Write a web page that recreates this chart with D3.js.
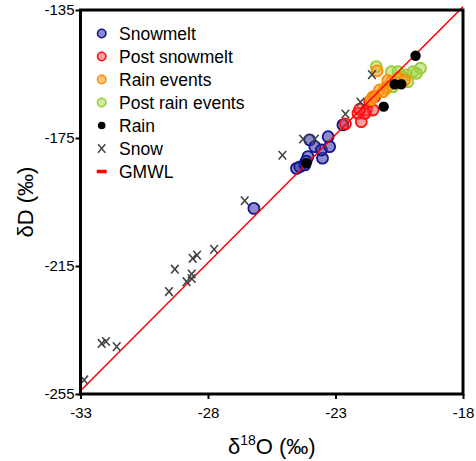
<!DOCTYPE html>
<html>
<head>
<meta charset="utf-8">
<script src="https://cdn.jsdelivr.net/npm/d3@7"></script>
<style>
  body { margin: 0; background: #fff; }
  text { font-family: "Liberation Sans", Arial, sans-serif; }
</style>
</head>
<body>
<div id="chart"></div>
<script>
// d18O, dD pairs
var snowmelt = [[-26.2,-197.0],[-24.53,-184.5],[-24.4,-184.0],[-24.2,-183.4],[-24.08,-180.8],
  [-24.01,-175.6],[-23.81,-177.7],[-23.51,-181.3],[-23.55,-178.75],[-23.29,-174.6],[-23.23,-177.7],
  [-22.71,-170.9],[-24.15,-182.2]];
var postSnowmelt = [[-22.61,-170.6],[-22.12,-167.3],[-21.99,-169.9],[-21.79,-166.25],[-21.53,-166.25],
  [-21.66,-163.6],[-21.46,-162.1],[-21.85,-167.3],[-22.05,-166.0]];
var postRain = [[-21.4,-152.7],[-20.81,-154.3],[-20.55,-154.3],[-20.22,-155.3],[-19.96,-154.3],
  [-19.67,-153.2],[-19.83,-154.8],[-21.0,-159.5],[-20.75,-159.0],[-20.16,-157.4],[-20.4,-155.8]];
var rainEvents = [[-21.37,-154.0],[-21.53,-162.1],[-21.27,-160.0],[-21.0,-159.0],[-20.81,-157.4],
  [-20.55,-156.3],[-20.29,-156.9],[-21.14,-160.5],[-21.6,-163.0],[-20.95,-157.0]];
var rain = [[-24.14,-182.9],[-21.11,-165.2],[-20.68,-158.2],[-20.42,-158.2],[-19.86,-149.3]];
var snow = [[-32.86,-250.6],[-32.17,-239.2],[-32.0,-238.6],[-31.58,-240.2],[-29.53,-223.0],
  [-29.3,-216.0],[-28.84,-219.9],[-28.64,-218.9],[-28.6,-212.6],[-28.43,-211.6],[-28.64,-217.5],
  [-27.76,-209.8],[-26.56,-194.6],[-25.08,-180.4],[-24.27,-175.3],[-23.81,-175.3],[-22.61,-167.5],
  [-22.02,-163.75],[-21.57,-155.2]];
var gmwl = [-33, -18]; // dD = 8*d18O + 10
var xTicks = [-33, -28, -23, -18];
var yTicks = [-255, -215, -175, -135];
var legendNames = ["Snowmelt", "Post snowmelt", "Rain events", "Post rain events", "Rain", "Snow", "GMWL"];

var w = 476, h = 461;
var margin = {left: 80.5, right: 13, top: 10, bottom: 67};

var svg = d3.select("#chart").append("svg")
  .attr("width", w).attr("height", h);

var x = d3.scaleLinear().domain([-33, -18]).range([margin.left, w - margin.right]);
var y = d3.scaleLinear().domain([-255, -135]).range([h - margin.bottom, margin.top]);

var styles = {
  snowmelt: {stroke: "#14148c", fill: "rgba(60,64,170,0.6)"},
  post: {stroke: "#ff1010", fill: "rgba(255,60,60,0.5)"},
  rainEv: {stroke: "#ff8c00", fill: "rgba(255,150,40,0.55)"},
  postRain: {stroke: "#9acd32", fill: "rgba(160,210,80,0.5)"}
};

function circles(data, st) {
  svg.append("g").selectAll("circle")
    .data(data).enter().append("circle")
    .attr("cx", function(d) { return x(d[0]); })
    .attr("cy", function(d) { return y(d[1]); })
    .attr("r", 5.5)
    .attr("fill", st.fill)
    .attr("stroke", st.stroke)
    .attr("stroke-width", 1.8);
}
circles(snowmelt, styles.snowmelt);
circles(postSnowmelt, styles.post);
circles(postRain, styles.postRain);
circles(rainEvents, styles.rainEv);

// GMWL
svg.append("line")
  .attr("x1", x(gmwl[0])).attr("y1", y(8 * gmwl[0] + 10))
  .attr("x2", x(gmwl[1])).attr("y2", y(8 * gmwl[1] + 10))
  .attr("stroke", "red").attr("stroke-width", 1.5);

svg.append("g").selectAll("circle")
  .data(rain).enter().append("circle")
  .attr("cx", function(d) { return x(d[0]); })
  .attr("cy", function(d) { return y(d[1]); })
  .attr("r", 5.2)
  .attr("fill", "#000");

function cross(px, py, sx, sy) {
  return "M" + (px - sx) + "," + (py - sy) + "L" + (px + sx) + "," + (py + sy) +
         "M" + (px - sx) + "," + (py + sy) + "L" + (px + sx) + "," + (py - sy);
}
svg.append("g").selectAll("path")
  .data(snow).enter().append("path")
  .attr("d", function(d) { return cross(x(d[0]), y(d[1]), 3.8, 4.3); })
  .attr("stroke", "#444").attr("stroke-width", 1.6).attr("fill", "none");

// axes
var xAxis = svg.append("g")
  .attr("transform", "translate(0," + (h - margin.bottom) + ")")
  .call(d3.axisBottom(x).tickValues(xTicks).tickSize(5).tickSizeOuter(0).tickFormat(function(d) { return String(d); }));
var yAxis = svg.append("g")
  .attr("transform", "translate(" + margin.left + ",0)")
  .call(d3.axisLeft(y).tickValues(yTicks).tickSize(5).tickSizeOuter(0).tickFormat(function(d) { return String(d); }));
[xAxis, yAxis].forEach(function(a) {
  a.select(".domain").remove();
  a.selectAll("line").attr("stroke", "#000").attr("stroke-width", 2);
  a.selectAll("text").attr("fill", "#000").style("font-size", "15px")
    .style("font-family", "Liberation Sans, Arial, sans-serif");
});
xAxis.selectAll("text").attr("dy", "1.05em");
yAxis.selectAll("text").attr("x", -6);

// frame
svg.append("rect")
  .attr("x", margin.left).attr("y", margin.top)
  .attr("width", w - margin.left - margin.right)
  .attr("height", h - margin.top - margin.bottom)
  .attr("fill", "none").attr("stroke", "#000").attr("stroke-width", 3);

// axis titles
svg.append("text")
  .attr("transform", "translate(33," + ((margin.top + h - margin.bottom) / 2) + ") rotate(-90)")
  .attr("text-anchor", "middle")
  .style("font-size", "22px")
  .text("δD (‰)");
var xt = svg.append("text")
  .attr("x", (margin.left + w - margin.right) / 2)
  .attr("y", 454)
  .attr("text-anchor", "middle")
  .style("font-size", "22px");
xt.append("tspan").text("δ");
xt.append("tspan").attr("dy", -9).style("font-size", "14px").text("18");
xt.append("tspan").attr("dy", 9).text("O (‰)");

// legend
var lg = svg.append("g");
var ly = function(i) { return 33.5 + i * 23; };
var lx = 101.7;
var legendStyles = [styles.snowmelt, styles.post, styles.rainEv, styles.postRain];
legendStyles.forEach(function(st, i) {
  lg.append("circle").attr("cx", lx).attr("cy", ly(i)).attr("r", 4.2)
    .attr("fill", st.fill).attr("stroke", st.stroke).attr("stroke-width", 1.6);
});
lg.append("circle").attr("cx", lx).attr("cy", ly(4)).attr("r", 3.8).attr("fill", "#000");
lg.append("path").attr("d", cross(lx, ly(5), 3.6, 4.2))
  .attr("stroke", "#444").attr("stroke-width", 1.5).attr("fill", "none");
lg.append("line").attr("x1", lx - 5).attr("x2", lx + 5)
  .attr("y1", ly(6)).attr("y2", ly(6))
  .attr("stroke", "red").attr("stroke-width", 3.5);
lg.selectAll("text.lab")
  .data(legendNames).enter().append("text")
  .attr("class", "lab")
  .attr("x", 119)
  .attr("y", function(d, i) { return ly(i); })
  .attr("dy", "0.36em")
  .style("font-size", "17.5px")
  .attr("fill", "#000")
  .text(function(d) { return d; });
</script>
</body>
</html>
